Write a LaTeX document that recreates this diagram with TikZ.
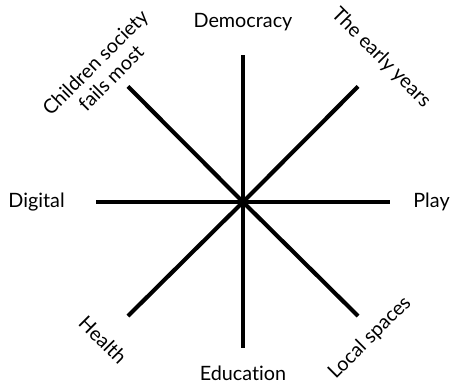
\documentclass[tikz,border=0pt]{standalone}
\usepackage{fontspec}
\setmainfont{Lato}[Ligatures=NoCommon]
\begin{document}
\begin{tikzpicture}[
    spoke/.style={line width=2.6pt},
    lbl/.style={font=\fontsize{12.5}{14}\selectfont, inner sep=0pt, align=center}]
	\useasboundingbox (-5.4,-4.022) rectangle (4.6,4.489);
	
	% hub and spoke ends
	\coordinate (hub) at (0,0);
	\coordinate (n) at (0,3.267);
	\coordinate (s) at (0,-3.244);
	\coordinate (w) at (-3.267,0);
	\coordinate (e) at (3.267,0);
	\coordinate (ne) at (2.556,2.567);
	\coordinate (nw) at (-2.556,2.567);
	\coordinate (sw) at (-2.556,-2.533);
	\coordinate (se) at (2.556,-2.533);
	
	\foreach \p in {n,s,w,e,ne,nw,sw,se}{
		\draw[spoke] (hub) -- (\p);
	}
	
	% straight labels
	\node[lbl, anchor=base] (democracy) at (0,3.867) {Democracy};
	\node[lbl, anchor=base] (education) at (0,-3.956) {Education};
	\node[lbl, anchor=base east] (digital) at (-3.956,-0.133) {Digital};
	\node[lbl, anchor=base west] (play) at (3.78,-0.133) {Play};
	
	% slanted labels
	\node[lbl, rotate=-45] (early) at (3.067,3.2) {The early years};
	\node[lbl, rotate=45] (fails) at (-3.111,2.933) {Children society\\fails most};
	\node[lbl, rotate=-45] (health) at (-3.111,-3.067) {Health};
	\node[lbl, rotate=45] (local) at (2.822,-3.022) {Local spaces};
\end{tikzpicture}
\end{document}
